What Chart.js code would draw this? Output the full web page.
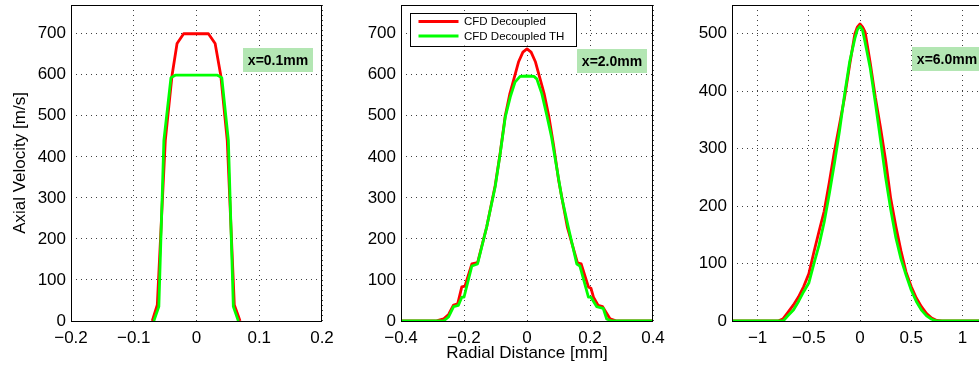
<!DOCTYPE html>
<html><head><meta charset="utf-8">
<script src="https://cdn.jsdelivr.net/npm/chart.js@4.4.1/dist/chart.umd.min.js"></script>
<style>
html,body{margin:0;padding:0;background:#fff;overflow:hidden;width:979px;height:370px;}
#wrap{position:relative;width:979px;height:370px;overflow:hidden;background:#fff;}
canvas{position:absolute;top:0;}
</style></head><body><div id="wrap">
<canvas id="c1" width="345" height="370" style="left:0px"></canvas>
<canvas id="c2" width="345" height="370" style="left:330px"></canvas>
<canvas id="c3" width="345" height="370" style="left:660px"></canvas>
</div>
<script>
// ---------- data ----------
const seriesNames = ['CFD Decoupled', 'CFD Decoupled TH'];
const panelLabels = ['x=0.1mm', 'x=2.0mm', 'x=6.0mm'];
const yAxisTitle = 'Axial Velocity [m/s]';
const xAxisTitle = 'Radial Distance [mm]';

// panel 1 : x = 0.1 mm
const p1RedX   = [-0.0705, -0.0625, -0.0497, -0.039, -0.031, -0.0205, 0, 0.019, 0.0297, 0.0387, 0.049, 0.0603, 0.0694];
const p1RedY   = [0, 39, 440, 598, 676, 700, 700, 700, 676, 598, 440, 39, 0];
const p1GreenX = [-0.068, -0.060, -0.052, -0.0407, -0.0338, 0, 0.0333, 0.0403, 0.0508, 0.0587, 0.0667];
const p1GreenY = [0, 35, 440, 593, 599, 599, 599, 593, 440, 35, 0];
const p1XTicks = [-0.2, -0.1, 0, 0.1, 0.2];
const p1XTickLabels = ['\u22120.2', '\u22120.1', '0', '0.1', '0.2'];
const p1YTicks = [0, 100, 200, 300, 400, 500, 600, 700];
const p1YTickLabels = ['0', '100', '200', '300', '400', '500', '600', '700'];

// panel 2 : x = 2.0 mm
const p2RedX   = [-0.4, -0.29, -0.265, -0.249, -0.233, -0.22, -0.207, -0.197, -0.175, -0.157, -0.128, -0.101, -0.085, -0.069, -0.055, -0.04, -0.027, -0.013, 0, 0.013, 0.027, 0.04, 0.055, 0.069, 0.084, 0.1, 0.128, 0.16, 0.172, 0.195, 0.203, 0.211, 0.226, 0.24, 0.264, 0.285, 0.4];
const p2RedY   = [0, 0, 5, 16, 39, 42, 83, 85, 139, 142, 229, 330, 410, 500, 552, 594, 631, 655, 663, 655, 631, 594, 552, 500, 430, 345, 229, 142, 139, 83, 80, 58, 38, 35, 5, 0, 0];
const p2GreenX = [-0.4, -0.265, -0.249, -0.233, -0.218, -0.207, -0.2, -0.175, -0.157, -0.128, -0.101, -0.085, -0.069, -0.053, -0.038, -0.022, 0, 0.022, 0.031, 0.047, 0.063, 0.078, 0.094, 0.11, 0.131, 0.158, 0.168, 0.195, 0.203, 0.221, 0.242, 0.253, 0.268, 0.4];
const p2GreenY = [0, 0, 10, 35, 38, 58, 58, 134, 139, 229, 327, 408, 497, 546, 582, 596, 597, 596, 590, 554, 501, 448, 375, 302, 229, 139, 134, 58, 58, 35, 31, 5, 0, 0];
const p2XTicks = [-0.4, -0.2, 0, 0.2, 0.4];
const p2XTickLabels = ['\u22120.4', '\u22120.2', '0', '0.2', '0.4'];
const p2YTicks = [0, 100, 200, 300, 400, 500, 600, 700];
const p2YTickLabels = ['0', '100', '200', '300', '400', '500', '600', '700'];

// panel 3 : x = 6.0 mm
const p3RedX   = [-1.25, -0.8, -0.75, -0.70, -0.65, -0.60, -0.55, -0.50, -0.45, -0.40, -0.35, -0.30, -0.25, -0.20, -0.15, -0.10, -0.05, -0.025, 0, 0.025, 0.05, 0.10, 0.15, 0.20, 0.25, 0.30, 0.35, 0.40, 0.45, 0.50, 0.55, 0.60, 0.65, 0.70, 0.75, 0.8, 1.25];
const p3RedY   = [0, 0, 4, 16, 28, 42, 60, 82, 120, 156, 191, 241, 295, 342, 390, 447, 500, 512, 517, 512, 503, 449, 389, 337, 280, 213, 165, 122, 85, 60, 40, 25, 13, 5, 1, 0, 0];
const p3GreenX = [-1.25, -0.75, -0.70, -0.65, -0.60, -0.55, -0.50, -0.45, -0.40, -0.35, -0.30, -0.25, -0.20, -0.15, -0.10, -0.05, -0.025, 0, 0.025, 0.05, 0.10, 0.15, 0.20, 0.25, 0.30, 0.35, 0.40, 0.45, 0.50, 0.55, 0.60, 0.65, 0.70, 0.75, 1.25];
const p3GreenY = [0, 0, 10, 19, 34, 51, 66, 100, 132, 172, 221, 274, 331, 395, 452, 492, 507, 513, 506, 485, 440, 380, 316, 250, 194, 145, 108, 80, 54, 34, 19, 9, 3, 0, 0];
const p3XTicks = [-1, -0.5, 0, 0.5, 1];
const p3XTickLabels = ['\u22121', '\u22120.5', '0', '0.5', '1'];
const p3YTicks = [0, 100, 200, 300, 400, 500];
const p3YTickLabels = ['0', '100', '200', '300', '400', '500'];

// ---------- styling ----------
const FONT = "'Liberation Sans', Arial, Helvetica, sans-serif";
const seriesColors = ['#ff0000', '#00ff00'];

const framePlugin = {
  id: 'frame',
  afterDraw(chart) {
    const {ctx, chartArea: a} = chart;
    ctx.save();
    ctx.strokeStyle = '#000';
    ctx.lineWidth = 1;
    ctx.strokeRect(Math.round(a.left) + 0.5, Math.round(a.top) + 0.5, Math.round(a.right - a.left) - 1, Math.round(a.bottom - a.top));
    ctx.restore();
  }
};

const tagPlugin = {
  id: 'tag',
  afterDatasetsDraw(chart, args, opts) {
    const {ctx, chartArea: a} = chart;
    const w = 70, h = 24;
    const x = a.right - opts.right - w, y = a.top + opts.top;
    ctx.save();
    ctx.fillStyle = '#b3e6b3';
    ctx.fillRect(x, y, w, h);
    ctx.fillStyle = '#000';
    ctx.font = 'bold 14px ' + FONT;
    ctx.textAlign = 'center';
    ctx.textBaseline = 'middle';
    ctx.fillText(opts.text, x + w / 2, y + h / 2 + 1);
    ctx.restore();
  }
};

const legendPlugin = {
  id: 'boxlegend',
  afterDatasetsDraw(chart, args, opts) {
    if (!opts.show) return;
    const {ctx, chartArea: a} = chart;
    const x = a.left + 8.5, y = a.top + 7.5, w = 166, h = 33;
    ctx.save();
    ctx.fillStyle = '#fff';
    ctx.fillRect(x, y, w, h);
    ctx.strokeStyle = '#000';
    ctx.lineWidth = 1;
    ctx.strokeRect(Math.round(x) + 0.5, Math.round(y) + 0.5, w, h);
    ctx.font = '11.5px ' + FONT;
    ctx.textBaseline = 'middle';
    chart.data.datasets.forEach((ds, i) => {
      const ly = y + 9 + i * 14.5;
      ctx.strokeStyle = ds.borderColor;
      ctx.lineWidth = 2.8;
      ctx.beginPath();
      ctx.moveTo(x + 9, ly);
      ctx.lineTo(x + 49, ly);
      ctx.stroke();
      ctx.fillStyle = '#000';
      ctx.fillText(ds.label, x + 54.5, ly + 0.5);
    });
    ctx.restore();
  }
};

function makeChart(id, cfg) {
  const series = [[cfg.rx, cfg.ry], [cfg.gx, cfg.gy]];
  return new Chart(document.getElementById(id), {
    type: 'line',
    data: {
      datasets: series.map((s, i) => ({
        label: seriesNames[i],
        data: s[0].map((x, j) => ({x: x, y: s[1][j]})),
        borderColor: seriesColors[i],
        backgroundColor: seriesColors[i],
        borderWidth: 2.8,
        pointRadius: 0,
        tension: 0,
        fill: false,
        order: 1 - i,
        borderJoinStyle: 'round'
      }))
    },
    options: {
      responsive: false,
      animation: false,
      devicePixelRatio: 1,
      layout: {padding: {top: 5, right: cfg.padRight, left: 0, bottom: 0}},
      plugins: {
        legend: {display: false},
        tooltip: {enabled: false},
        tag: {text: cfg.tag, right: cfg.tagRight, top: cfg.tagTop},
        boxlegend: {show: !!cfg.legend}
      },
      scales: {
        x: {
          type: 'linear',
          min: cfg.xmin, max: cfg.xmax,
          afterBuildTicks: ax => { ax.ticks = cfg.xTicks.map(v => ({value: v})); },
          afterFit: ax => { ax.height = 49; ax.paddingLeft = 0; ax.paddingRight = 0; },
          ticks: {
            autoSkip: false, maxRotation: 0, padding: 7, color: '#000',
            font: {family: FONT, size: 17},
            callback: v => { const i = cfg.xTicks.indexOf(v); return i >= 0 ? cfg.xLabels[i] : ''; }
          },
          grid: {color: 'rgba(0,0,0,0.75)', lineWidth: 1, drawTicks: false},
          border: {display: false, dash: [1, 4]},
          title: {display: !!cfg.xTitle, text: xAxisTitle, color: '#000', font: {family: FONT, size: 17}, padding: {top: 0, bottom: 6}}
        },
        y: {
          type: 'linear',
          min: 0, max: cfg.ymax,
          afterBuildTicks: ax => { ax.ticks = cfg.yTicks.map(v => ({value: v})); },
          afterFit: ax => { ax.width = cfg.yWidth; ax.paddingTop = 0; ax.paddingBottom = 0; },
          ticks: {
            autoSkip: false, padding: 5, color: '#000',
            font: {family: FONT, size: 17},
            callback: v => { const i = cfg.yTicks.indexOf(v); return i >= 0 ? cfg.yLabels[i] : ''; }
          },
          grid: {color: 'rgba(0,0,0,0.75)', lineWidth: 1, drawTicks: false},
          border: {display: false, dash: [1, 4]},
          title: {display: !!cfg.yTitle, text: yAxisTitle, color: '#000', font: {family: FONT, size: 17}, padding: {top: 10, bottom: 0}}
        }
      }
    },
    plugins: [framePlugin, tagPlugin, legendPlugin]
  });
}

makeChart('c1', {rx: p1RedX, ry: p1RedY, gx: p1GreenX, gy: p1GreenY,
  xmin: -0.2, xmax: 0.2, ymax: 770, xTicks: p1XTicks, xLabels: p1XTickLabels, yTicks: p1YTicks, yLabels: p1YTickLabels,
  padRight: 23, yWidth: 71, yTitle: true, xTitle: false, tag: panelLabels[0], tagRight: 9, tagTop: 43});
makeChart('c2', {rx: p2RedX, ry: p2RedY, gx: p2GreenX, gy: p2GreenY,
  xmin: -0.4, xmax: 0.4, ymax: 770, xTicks: p2XTicks, xLabels: p2XTickLabels, yTicks: p2YTicks, yLabels: p2YTickLabels,
  padRight: 22, yWidth: 71, yTitle: false, xTitle: true, tag: panelLabels[1], tagRight: 6, tagTop: 44, legend: true});
makeChart('c3', {rx: p3RedX, ry: p3RedY, gx: p3GreenX, gy: p3GreenY,
  xmin: -1.25, xmax: 1.25, ymax: 550, xTicks: p3XTicks, xLabels: p3XTickLabels, yTicks: p3YTicks, yLabels: p3YTickLabels,
  padRight: 17, yWidth: 72, yTitle: false, xTitle: false, tag: panelLabels[2], tagRight: 6, tagTop: 42});
</script>
</body></html>
